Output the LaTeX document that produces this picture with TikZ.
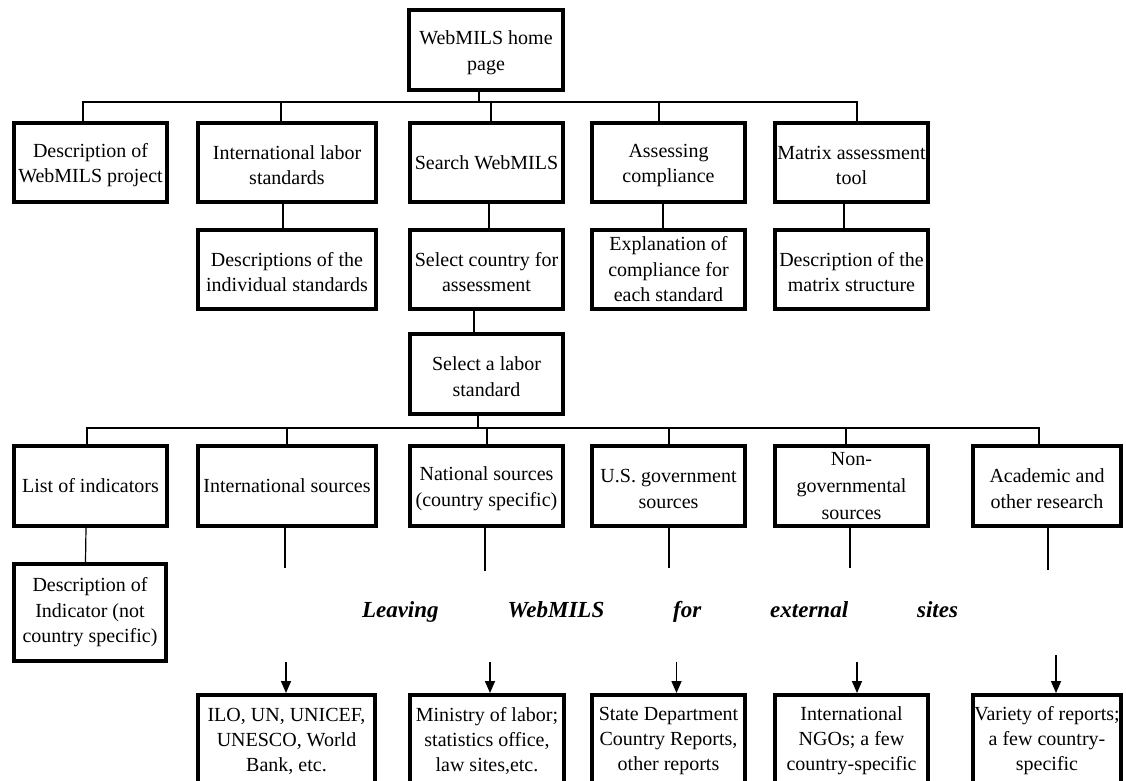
\documentclass[tikz,border=0pt]{standalone}
\usepackage{fontspec}
\setmainfont{Liberation Serif}
\usetikzlibrary{arrows.meta}
\newcommand\lowr{\rule{0pt}{19.5pt}}
\tikzset{
  box/.style={draw, line width=4pt, inner sep=0pt, align=center,
    font=\fontsize{20}{25.5}\selectfont, minimum width=153pt, minimum height=79pt},
  wide/.style={minimum width=178pt},
  conn/.style={line width=1.2pt},
  arr/.style={line width=1.5pt, -{Triangle[length=12pt,width=10pt]}},
}
\begin{document}
\begin{tikzpicture}[x=1pt,y=-1pt]
\useasboundingbox (0,0) rectangle (1126,780);
\clip (0,0) rectangle (1126,780);
% top
\node[box, minimum height=80pt, minimum width=154pt] (H) at (486,50) {\lowr WebMILS home\\page};
% row 1
\node[box] (A1) at (90.5,162.5) {\lowr Description of\\WebMILS project};
\node[box, wide] (A2) at (287,162.5) {\lowr International labor\\standards};
\node[box] (A3) at (486.5,162.5) {Search WebMILS};
\node[box] (A4) at (668.5,162.5) {\lowr Assessing\\compliance};
\node[box] (A5) at (851.5,162.5) {\lowr Matrix assessment\\tool};
% row 2
\node[box, wide] (B2) at (287,269.5) {\lowr Descriptions of the\\individual standards};
\node[box] (B3) at (486.5,269.5) {\lowr Select country for\\assessment};
\node[box] (B4) at (668.5,269.5) {Explanation of\\compliance for\\each standard};
\node[box] (B5) at (851.5,269.5) {\lowr Description of the\\matrix structure};
% select labor standard
\node[box, minimum height=80pt] (C3) at (486.5,374) {\lowr Select a labor\\standard};
% row 3
\node[box, minimum height=80pt] (D1) at (90.5,486) {List of indicators};
\node[box, wide, minimum height=80pt] (D2) at (287,486) {International sources};
\node[box, minimum height=80pt] (D3) at (486.5,486) {\lowr National sources\\(country specific)};
\node[box, minimum height=80pt] (D4) at (668.5,486) {\lowr U.S. government\\sources};
\node[box, minimum height=80pt, font=\fontsize{20}{27}\selectfont] (D5) at (851.5,486) {Non-\\governmental\\sources};
\node[box, minimum height=80pt, minimum width=148pt] (D6) at (1047,486) {\lowr Academic and\\other research};
% indicator description
\node[box, minimum height=97pt, minimum width=152pt] (E1) at (90,612.5) {Description of\\Indicator (not\\country specific)};
% leaving text
\node[inner sep=0pt, font=\fontsize{23}{27}\selectfont\bfseries\itshape] (L) at (660,612)
  {\makebox[596pt][s]{Leaving WebMILS for external sites}};
% bottom row
\node[box, minimum height=92pt, minimum width=177pt, font=\fontsize{20}{25}\selectfont] (F2) at (286.5,741) {ILO, UN, UNICEF,\\UNESCO, World\\Bank, etc.};
\node[box, minimum height=92pt, minimum width=154pt, font=\fontsize{20}{25}\selectfont] (F3) at (487,741) {Ministry of labor;\\statistics office,\\law sites,etc.};
\node[box, minimum height=92pt, font=\fontsize{20}{25}\selectfont] (F4) at (668.5,741) {State Department\\Country Reports,\\other reports};
\node[box, minimum height=92pt, font=\fontsize{20}{25}\selectfont] (F5) at (851.5,741) {International\\NGOs; a few\\country-specific};
\node[box, minimum height=92pt, minimum width=148pt, font=\fontsize{20}{25}\selectfont] (F6) at (1047,741) {Variety of reports;\\a few country-\\specific};
% connectors: home -> row 1
\draw[conn] ([xshift=-7pt]H.south) -- ++(0,10) coordinate (b1);
\draw[conn] ([xshift=-7.5pt]A1.north) |- (b1);
\draw[conn] ([xshift=-6pt]A2.north) |- (b1);
\draw[conn] ([xshift=4.5pt]A3.north) |- (b1);
\draw[conn] ([xshift=-9.5pt]A4.north) |- (b1);
\draw[conn] ([xshift=5.5pt]A5.north) |- (b1);
% row 1 -> row 2
\draw[conn] ([xshift=-4pt]A2.south) -- ([xshift=-4pt]B2.north);
\draw[conn] ([xshift=2.5pt]A3.south) -- ([xshift=2.5pt]B3.north);
\draw[conn] ([xshift=-5.5pt]A4.south) -- ([xshift=-5.5pt]B4.north);
\draw[conn] ([xshift=-7.5pt]A5.south) -- ([xshift=-7.5pt]B5.north);
\draw[conn] ([xshift=-12.5pt]B3.south) -- ([xshift=-12.5pt]C3.north);
% labor standard -> row 3
\draw[conn] ([xshift=-8.5pt]C3.south) -- ++(0,12) coordinate (b2);
\draw[conn] ([xshift=-3.5pt]D1.north) |- (b2);
\draw[conn] (D2.north) |- (b2);
\draw[conn] ([xshift=0.5pt]D3.north) |- (b2);
\draw[conn] ([xshift=0.5pt]D4.north) |- (b2);
\draw[conn] ([xshift=-5.5pt]D5.north) |- (b2);
\draw[conn] ([xshift=-8pt]D6.north) |- (b2);
% row 3 downward
\draw[conn] ([xshift=-4.5pt]D1.south) -- ([xshift=-4.5pt]E1.north);
\draw[conn] ([xshift=-2pt]D2.south) -- ++(0,40) coordinate (d2);
\draw[conn] ([xshift=-1.5pt]D3.south) -- ++(0,43) coordinate (d3);
\draw[conn] ([xshift=0.5pt]D4.south) -- ++(0,40) coordinate (d4);
\draw[conn] ([xshift=-1.5pt]D5.south) -- ++(0,40) coordinate (d5);
\draw[conn] ([xshift=1pt]D6.south) -- ++(0,42) coordinate (d6);
% arrows into external sites
\draw[arr] ([xshift=-0.5pt,yshift=31pt]F2.north) -- ([xshift=-0.5pt]F2.north);
\draw[arr] ([xshift=3pt,yshift=31pt]F3.north) -- ([xshift=3pt]F3.north);
\draw[arr] ([xshift=8pt,yshift=31pt]F4.north) -- ([xshift=8pt]F4.north);
\draw[arr] ([xshift=5.5pt,yshift=31pt]F5.north) -- ([xshift=5.5pt]F5.north);
\draw[arr] ([xshift=9pt,yshift=38pt]F6.north) -- ([xshift=9pt]F6.north);
\end{tikzpicture}
\end{document}
